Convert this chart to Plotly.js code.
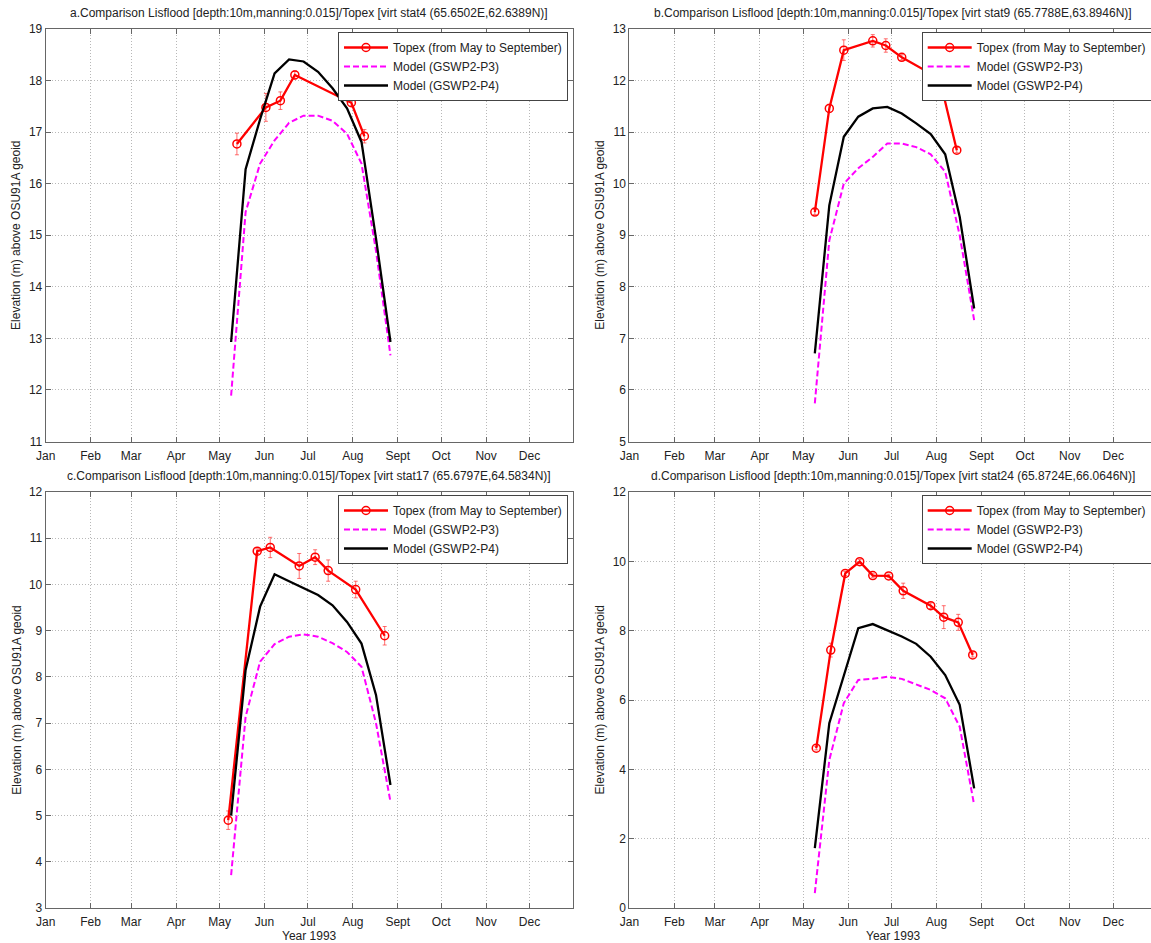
<!DOCTYPE html>
<html>
<head>
<meta charset="utf-8">
<script src="https://cdn.plot.ly/plotly-3.0.1.min.js"></script>
<style>
html, body { margin: 0; padding: 0; overflow: hidden; background: #fff; }
#chart { width: 1160px; height: 943px; }
</style>
</head>
<body>
<div id="chart"></div>
<script>
// ---------- DATA ----------
const monthStarts = ['1993-01-01','1993-02-01','1993-03-01','1993-04-01','1993-05-01','1993-06-01',
                     '1993-07-01','1993-08-01','1993-09-01','1993-10-01','1993-11-01','1993-12-01'];
const monthLabels = ['Jan','Feb','Mar','Apr','May','Jun','Jul','Aug','Sept','Oct','Nov','Dec'];

const modelDates = ['1993-05-09','1993-05-19','1993-05-29','1993-06-08','1993-06-18','1993-06-28',
                    '1993-07-08','1993-07-18','1993-07-28','1993-08-07','1993-08-17','1993-08-27'];

// Panel a
const topexDatesA = ['1993-05-13','1993-06-02','1993-06-12','1993-06-22','1993-07-31','1993-08-09'];
const topexA      = [16.77, 17.48, 17.61, 18.11, 17.57, 16.92];
const topexErrA   = [0.21, 0.27, 0.17, 0.08, 0.06, 0.13];
const p3A = [11.89, 15.45, 16.39, 16.84, 17.18, 17.32, 17.32, 17.22, 16.97, 16.39, 14.70, 12.67];
const p4A = [12.93, 16.28, 17.25, 18.14, 18.41, 18.37, 18.17, 17.85, 17.46, 16.81, 14.94, 12.93];

// Panel b
const topexDatesB = ['1993-05-09','1993-05-19','1993-05-29','1993-06-18','1993-06-27','1993-07-08','1993-07-27','1993-08-05','1993-08-15'];
const topexB      = [9.45, 11.46, 12.59, 12.77, 12.68, 12.45, 12.15, 11.82, 10.65];
const topexErrB   = [0.05, 0.08, 0.20, 0.12, 0.13, 0.05, 0.05, 0.06, 0.05];
const p3B = [5.74, 8.90, 10.00, 10.30, 10.52, 10.78, 10.78, 10.71, 10.57, 10.23, 9.00, 7.35];
const p4B = [6.71, 9.58, 10.91, 11.30, 11.46, 11.49, 11.36, 11.17, 10.96, 10.57, 9.36, 7.58];

// Panel c
const topexDatesC = ['1993-05-07','1993-05-27','1993-06-05','1993-06-25','1993-07-06','1993-07-15','1993-08-03','1993-08-23'];
const topexC      = [4.90, 10.72, 10.80, 10.40, 10.59, 10.30, 9.89, 8.89];
const topexErrC   = [0.20, 0.05, 0.22, 0.27, 0.16, 0.23, 0.18, 0.20];
const p3C = [3.71, 7.14, 8.33, 8.71, 8.87, 8.92, 8.87, 8.73, 8.54, 8.22, 7.00, 5.30];
const p4C = [5.00, 8.15, 9.52, 10.22, 10.07, 9.92, 9.77, 9.55, 9.19, 8.72, 7.61, 5.66];

// Panel d
const topexDatesD = ['1993-05-10','1993-05-20','1993-05-30','1993-06-09','1993-06-18','1993-06-29','1993-07-09','1993-07-28','1993-08-06','1993-08-16','1993-08-26'];
const topexD      = [4.61, 7.44, 9.65, 9.99, 9.59, 9.58, 9.15, 8.72, 8.39, 8.24, 7.30];
const topexErrD   = [0.05, 0.20, 0.06, 0.06, 0.05, 0.05, 0.22, 0.08, 0.33, 0.23, 0.06];
const p3D = [0.43, 4.27, 5.91, 6.58, 6.61, 6.67, 6.61, 6.45, 6.29, 6.05, 5.23, 2.97];
const p4D = [1.73, 5.33, 6.70, 8.07, 8.19, 8.02, 7.83, 7.62, 7.25, 6.72, 5.86, 3.45];

const titles = [
  'a.Comparison Lisflood [depth:10m,manning:0.015]/Topex [virt stat4 (65.6502E,62.6389N)]',
  'b.Comparison Lisflood [depth:10m,manning:0.015]/Topex [virt stat9 (65.7788E,63.8946N)]',
  'c.Comparison Lisflood [depth:10m,manning:0.015]/Topex [virt stat17 (65.6797E,64.5834N)]',
  'd.Comparison Lisflood [depth:10m,manning:0.015]/Topex [virt stat24 (65.8724E,66.0646N)]'
];
const yRanges = [[11,19],[5,13],[3,12],[0,12]];
const yDticks = [1,1,1,2];
const seriesNames = ['Topex (from May to September)','Model (GSWP2-P3)','Model (GSWP2-P4)'];
const yTitle = 'Elevation (m) above OSU91A geoid';
const xTitle = 'Year 1993';

// ---------- LAYOUT GEOMETRY (pixels) ----------
const W = 1160, H = 943;
const FONT = 'Liberation Sans, Arial, Helvetica, sans-serif';
const colL = [45.7, 573.0], colR = [629.4, 1156.7];
const rowT = [29, 441.5], rowB = [492, 908];
const px = v => v / W;
const py = v => 1 - v / H;

const panels = [
  {td: topexDatesA, t: topexA, e: topexErrA, p3: p3A, p4: p4A, col: colL, row: rowT},
  {td: topexDatesB, t: topexB, e: topexErrB, p3: p3B, p4: p4B, col: colR, row: rowT},
  {td: topexDatesC, t: topexC, e: topexErrC, p3: p3C, p4: p4C, col: colL, row: rowB},
  {td: topexDatesD, t: topexD, e: topexErrD, p3: p3D, p4: p4D, col: colR, row: rowB}
];

const traces = [];
const layout = {
  width: W, height: H,
  margin: {l: 0, r: 0, t: 0, b: 0},
  paper_bgcolor: '#fff', plot_bgcolor: '#fff',
  font: {family: FONT, size: 12, color: '#222'},
  showlegend: true,
  annotations: []
};

panels.forEach((p, i) => {
  const n = i + 1;
  const sx = n === 1 ? '' : String(n);
  const xa = 'x' + sx, ya = 'y' + sx;
  const lg = n === 1 ? 'legend' : 'legend' + n;

  traces.push({
    x: p.td, y: p.t, xaxis: xa, yaxis: ya, legend: lg,
    type: 'scatter', mode: 'lines+markers', name: seriesNames[0],
    line: {color: '#ff0000', width: 2.3},
    marker: {symbol: 'circle-open', size: 8, color: '#ff0000', line: {width: 1.5, color: '#ff0000'}},
    error_y: {type: 'data', array: p.e, visible: true, color: 'rgba(255,50,50,0.7)', thickness: 1, width: 2}
  });
  traces.push({
    x: modelDates, y: p.p3, xaxis: xa, yaxis: ya, legend: lg,
    type: 'scatter', mode: 'lines', name: seriesNames[1],
    line: {color: '#ff00ff', width: 2, dash: '6px,3px'}
  });
  traces.push({
    x: modelDates, y: p.p4, xaxis: xa, yaxis: ya, legend: lg,
    type: 'scatter', mode: 'lines', name: seriesNames[2],
    line: {color: '#000000', width: 2.3}
  });

  const common = {
    showline: true, linecolor: '#666', linewidth: 1, mirror: 'ticks',
    ticks: 'inside', ticklen: 5, tickcolor: '#666',
    showgrid: true, gridcolor: '#b8b8b8', griddash: '1px,2px', gridwidth: 1,
    zeroline: false, tickfont: {family: FONT, size: 12, color: '#222'},
    fixedrange: true
  };
  layout['xaxis' + sx] = Object.assign({}, common, {
    type: 'date', anchor: ya,
    domain: [px(p.col[0]), px(p.col[1])],
    range: ['1993-01-01', '1993-12-31'],
    tickmode: 'array', tickvals: monthStarts, ticktext: monthLabels,
    ticklabelstandoff: 3
  });
  layout['yaxis' + sx] = Object.assign({}, common, {
    anchor: xa,
    domain: [py(p.row[1]), py(p.row[0])],
    range: yRanges[i], dtick: yDticks[i], tick0: 0
  });
  layout[lg] = {
    x: px(p.col[1] - 5), y: py(p.row[0] + 3), xanchor: 'right', yanchor: 'top',
    xref: 'paper', yref: 'paper',
    bgcolor: '#ffffff', bordercolor: '#444', borderwidth: 1,
    font: {family: FONT, size: 12, color: '#222'},
    tracegroupgap: 0, itemwidth: 44
  };
  // panel title
  layout.annotations.push({
    xref: 'paper', yref: 'paper',
    x: px((p.col[0] + p.col[1]) / 2), y: py(p.row[0] - 16),
    xanchor: 'center', yanchor: 'middle', showarrow: false,
    text: titles[i], font: {family: FONT, size: 12, color: '#222'}
  });
  // y axis title
  layout.annotations.push({
    xref: 'paper', yref: 'paper',
    x: px(p.col[0] - 29), y: py((p.row[0] + p.row[1]) / 2),
    xanchor: 'center', yanchor: 'middle', showarrow: false, textangle: -90,
    text: yTitle, font: {family: FONT, size: 12, color: '#222'}
  });
  // x axis title on bottom row
  if (p.row === rowB) {
    layout.annotations.push({
      xref: 'paper', yref: 'paper',
      x: px((p.col[0] + p.col[1]) / 2), y: py(p.row[1] + 28),
      xanchor: 'center', yanchor: 'middle', showarrow: false,
      text: xTitle, font: {family: FONT, size: 12, color: '#222'}
    });
  }
});

Plotly.newPlot('chart', traces, layout, {displayModeBar: false, staticPlot: true});
</script>
</body>
</html>
